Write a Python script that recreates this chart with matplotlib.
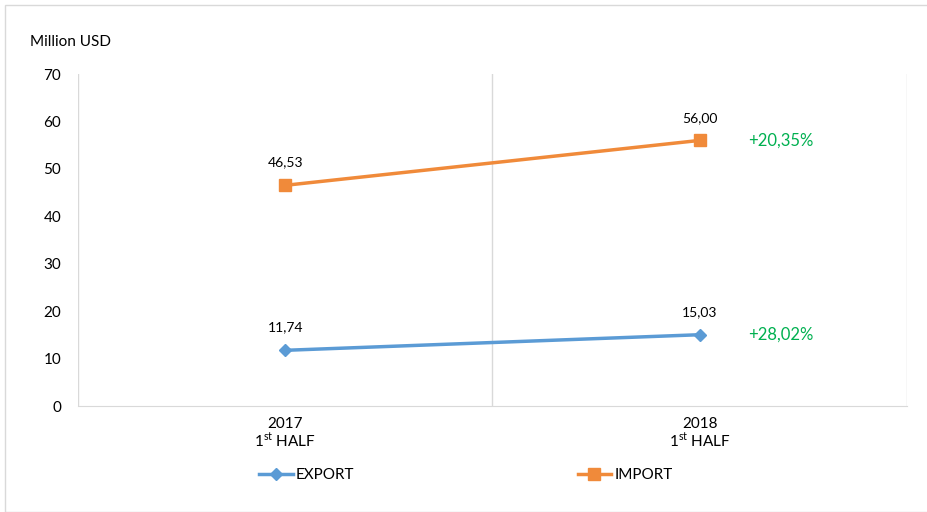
import matplotlib
matplotlib.use("Agg")
import matplotlib.pyplot as plt
from matplotlib.lines import Line2D
from matplotlib.patches import Rectangle

plt.rcParams['font.family'] = ['Lato', 'DejaVu Sans']

categories = ["2017\n1$^{\\mathregular{st}}$ HALF", "2018\n1$^{\\mathregular{st}}$ HALF"]
export_vals = [11.74, 15.03]
import_vals = [46.53, 56.00]
export_labels = ["11,74", "15,03"]
import_labels = ["46,53", "56,00"]
export_growth = "+28,02%"
import_growth = "+20,35%"
yticks = [0, 10, 20, 30, 40, 50, 60, 70]

c_exp = "#5B9BD5"
c_imp = "#F08A3A"
green = "#00B050"

fig = plt.figure(figsize=(9.28, 5.12), dpi=100)
fig.patches.append(Rectangle((5/928, 0), 1, 1 - 5/512, transform=fig.transFigure,
                             fill=False, edgecolor="#D9D9D9", linewidth=1))
ax = fig.add_axes([78/928, 1 - 406/512, (907 - 78)/928, (406 - 74)/512])

x = list(range(len(categories)))
ax.plot(x, export_vals, color=c_exp, linewidth=2.5, marker="D", markersize=6.5,
        markerfacecolor=c_exp, markeredgecolor=c_exp, zorder=3)
ax.plot(x, import_vals, color=c_imp, linewidth=2.5, marker="s", markersize=9,
        markerfacecolor=c_imp, markeredgecolor=c_imp, zorder=3)

for xi, v, lab in zip(x, export_vals, export_labels):
    ax.annotate(lab, (xi, v), xytext=(0, 12), textcoords="offset points",
                ha="center", va="bottom", fontsize=10, color="#000000")
for xi, v, lab in zip(x, import_vals, import_labels):
    ax.annotate(lab, (xi, v), xytext=(0, 12), textcoords="offset points",
                ha="center", va="bottom", fontsize=10, color="#000000")

ax.annotate(import_growth, (x[-1], import_vals[-1]), xytext=(35, 0), textcoords="offset points",
            ha="left", va="center", fontsize=12, color=green)
ax.annotate(export_growth, (x[-1], export_vals[-1]), xytext=(35, 0), textcoords="offset points",
            ha="left", va="center", fontsize=12, color=green)

ax.set_xlim(-0.5, 1.5)
ax.set_ylim(0, 70)
ax.set_yticks(yticks)
ax.set_yticklabels([str(t) for t in yticks], fontsize=11)
ax.set_xticks(x)
ax.set_xticklabels(categories, fontsize=11, linespacing=1.0)
ax.tick_params(axis="both", length=0, pad=8)
ax.tick_params(axis="y", pad=12)

ax.set_xticks([-0.5, 0.5, 1.5], minor=True)
ax.grid(which="minor", axis="x", color="#D9D9D9", linewidth=1)
ax.tick_params(which="minor", length=0)
for s in ["top", "left", "right"]:
    ax.spines[s].set_visible(False)
ax.spines["bottom"].set_color("#D9D9D9")

fig.text(30/928, 1 - 42/512, "Million USD", fontsize=11, ha="left", va="center")

handles = [Line2D([0], [0], color=c_exp, linewidth=2.5, marker="D", markersize=6.5),
           Line2D([0], [0], color=c_imp, linewidth=2.5, marker="s", markersize=9)]
fig.legend(handles, ["EXPORT", "IMPORT"], loc="center", bbox_to_anchor=(466/928, 1 - 475/512),
           ncol=2, frameon=False, fontsize=11, columnspacing=14.6, handlelength=2.2,
           handletextpad=0.2)

fig.savefig("out.png", dpi=100)
